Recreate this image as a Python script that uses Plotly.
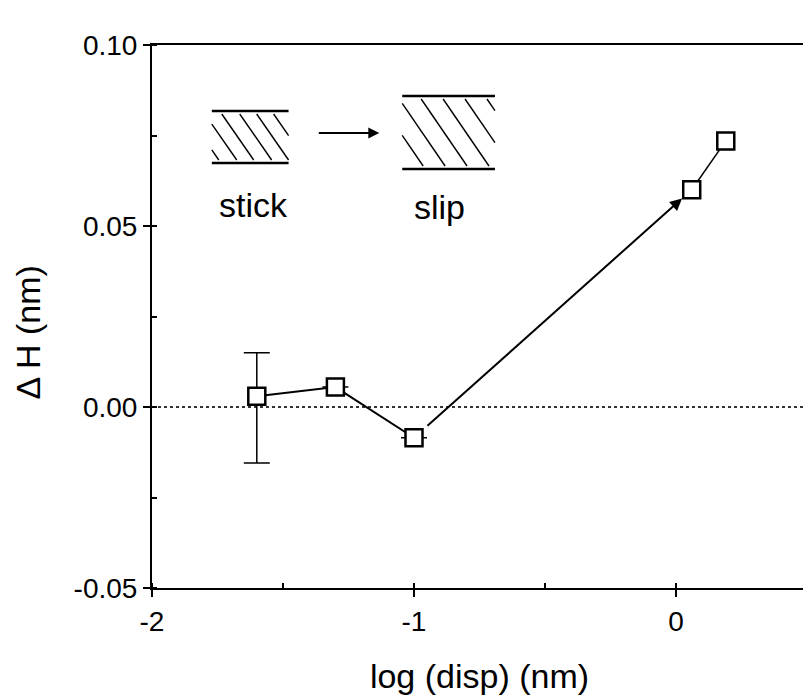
import plotly.graph_objects as go

# ---- data ----
log_disp = [-1.6, -1.3, -1.0, 0.06, 0.19]
delta_h = [0.003, 0.0055, -0.0085, 0.060, 0.0735]
err_plus = [0.012, 0, 0, 0, 0]
err_minus = [0.0185, 0, 0, 0, 0]
x_ticks = [-2, -1, 0]
x_tick_labels = ["-2", "-1", "0"]
y_ticks = [-0.05, 0.0, 0.05, 0.10]
y_tick_labels = ["-0.05", "0.00", "0.05", "0.10"]

OFF = 8  # page body margin in the browser
W, H = 811, 700
L = 152 - OFF
T = 45 - OFF
R = W - (809 - OFF)
B = H - (588 - OFF)
PW, PH = W - L - R, H - T - B

def px(x):
    return (x - OFF - L) / PW

def py(y):
    return (H - B - (y - OFF)) / PH

FONT = "Liberation Sans, Arial, sans-serif"
fig = go.Figure()

fig.add_trace(go.Scatter(
    x=log_disp[:3], y=delta_h[:3], mode="lines+markers",
    line=dict(color="black", width=2),
    marker=dict(symbol="square", size=17, color="white",
                line=dict(color="black", width=2.5)),
    error_y=dict(type="data", symmetric=False, array=err_plus[:3],
                 arrayminus=err_minus[:3],
                 visible=True, color="black", thickness=1.5, width=13),
    showlegend=False, cliponaxis=False))

fig.add_trace(go.Scatter(
    x=log_disp[3:], y=delta_h[3:], mode="lines+markers",
    line=dict(color="black", width=1.5),
    marker=dict(symbol="square", size=17, color="white",
                line=dict(color="black", width=2.5)),
    showlegend=False, cliponaxis=False))

# arrow from point 3 to point 4
fig.add_annotation(x=log_disp[3], y=delta_h[3], ax=log_disp[2], ay=delta_h[2],
                   xref="x", yref="y", axref="x", ayref="y", text="",
                   showarrow=True, arrowhead=2, arrowsize=1.2, arrowwidth=2,
                   arrowcolor="black", standoff=13, startstandoff=16)

shapes = []
shapes.append(dict(type="line", xref="paper", yref="y", x0=0, x1=1, y0=0, y1=0,
                   line=dict(color="#333", width=2, dash="dot"), layer="below"))

def seg(x0, y0, x1, y1, w=2):
    shapes.append(dict(type="line", xref="paper", yref="paper",
                       x0=px(x0), y0=py(y0), x1=px(x1), y1=py(y1),
                       line=dict(color="black", width=w)))

def hatch_box(xl, xr, yt, yb, starts, dx):
    seg(xl, yt, xr, yt, 2.5)
    seg(xl, yb, xr, yb, 2.5)
    for s in starts:
        x0, y0 = s, yt + 3
        x1, y1 = s + dx, yb - 3
        slope = (y1 - y0) / (x1 - x0)
        if x0 < xl:
            y0 = y0 + (xl - x0) * slope
            x0 = xl
        if x1 > xr:
            y1 = y1 - (x1 - xr) * slope
            x1 = xr
        if x1 > x0:
            seg(x0, y0, x1, y1, 1.4)

hatch_box(212, 289, 111, 163, [187, 205, 222, 240, 257, 274], 32)
hatch_box(403, 496, 96, 169, [357, 378, 400, 422, 444, 466, 488], 46)
fig.add_annotation(x=px(380), y=py(133), ax=-62, ay=0,
                   xref="paper", yref="paper", axref="pixel", ayref="pixel",
                   text="", showarrow=True, arrowhead=2, arrowsize=1.1,
                   arrowwidth=2, arrowcolor="black")
fig.add_annotation(x=px(254), y=py(205), xref="paper", yref="paper", text="stick",
                   xanchor="center", yanchor="middle",
                   showarrow=False, font=dict(family=FONT, size=34, color="black"))
fig.add_annotation(x=px(440), y=py(207), xref="paper", yref="paper", text="slip",
                   xanchor="center", yanchor="middle",
                   showarrow=False, font=dict(family=FONT, size=34, color="black"))
# y-axis title
fig.add_annotation(x=px(28), y=py(332), xref="paper", yref="paper", text="Δ H (nm)",
                   textangle=-90, xanchor="center", yanchor="middle",
                   showarrow=False, font=dict(family=FONT, size=34, color="black"))

axis_common = dict(showline=True, linecolor="black", linewidth=2, mirror=True,
                   showgrid=False, zeroline=False, ticks="outside", ticklen=7,
                   tickwidth=1.5, tickcolor="black",
                   tickfont=dict(family=FONT, size=28, color="black"))

fig.update_layout(
    width=W, height=H, margin=dict(l=L, r=R, t=T, b=B),
    plot_bgcolor="white", paper_bgcolor="white", shapes=shapes,
    xaxis=dict(range=[-2, 0.5], tickvals=x_ticks, ticktext=x_tick_labels,
               title=dict(text="log (disp) (nm)", standoff=29,
                          font=dict(family=FONT, size=34, color="black")),
               minor=dict(ticks="inside", ticklen=5, tickcolor="black", dtick=0.5),
               **axis_common),
    yaxis=dict(range=[-0.05, 0.10], tickvals=y_ticks, ticktext=y_tick_labels,
               minor=dict(ticks="inside", ticklen=5, tickcolor="black", dtick=0.025),
               **axis_common),
)

fig.write_html("out.html")
